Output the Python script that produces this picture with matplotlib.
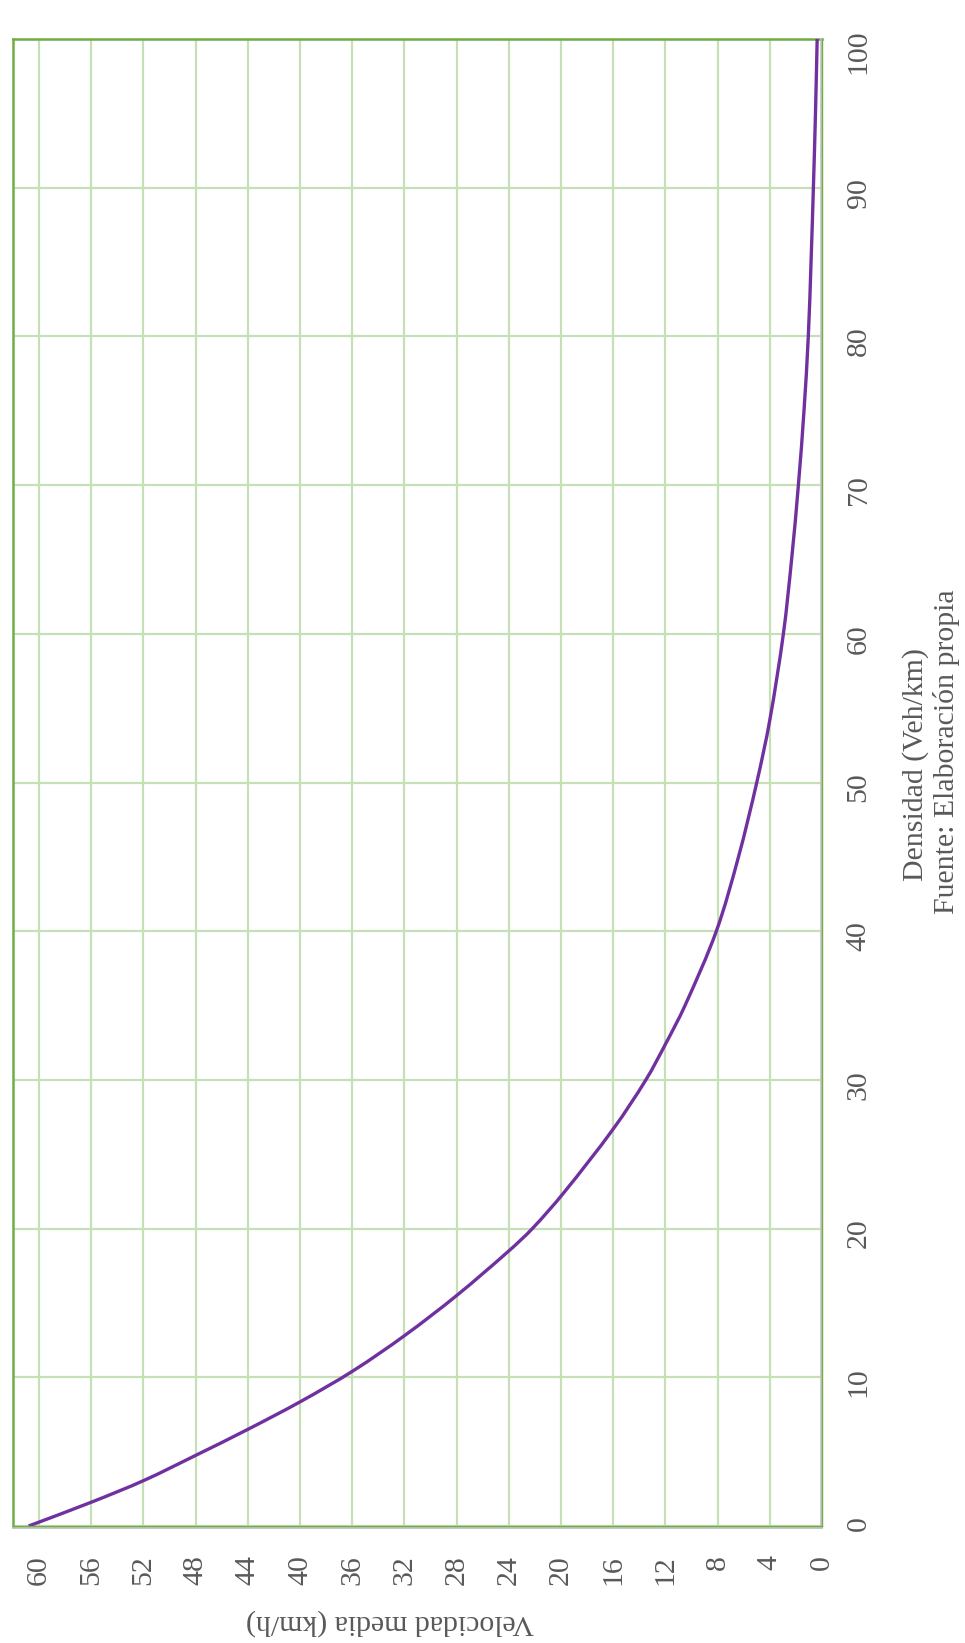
import matplotlib
matplotlib.use("Agg")
import matplotlib.pyplot as plt
import matplotlib.transforms as mtransforms
from matplotlib.path import Path
from matplotlib.patches import PathPatch

# Speed-density relationship (exponential-type decay)
density = [0, 1.6, 3.05, 4.75, 6.5, 8.35, 10.4, 12.8, 15.5, 18.5, 20, 22.4,
           26.7, 30, 32.4, 35, 40, 45, 50, 54.2, 60, 65, 70, 75, 80, 85,
           90, 95, 100]
speed = [60.8, 56, 52, 48, 44, 40, 36, 32, 28, 24, 22.2, 19.8,
         16, 13.5, 12, 10.5, 8.1, 6.4, 5.0, 4.0, 2.96, 2.33, 1.81, 1.38, 1.05, 0.84,
         0.66, 0.5, 0.37]

speed_ticks = list(range(0, 61, 4))
density_ticks = list(range(0, 101, 10))

speed_label = "Velocidad media (km/h)"
density_label = "Densidad (Veh/km)"
source_label = "Fuente: Elaboración propia"

plt.rcParams["font.family"] = ["Liberation Serif", "DejaVu Serif"]

W, H = 965, 1643
TEXT = "#595959"
GREEN = "#70ad47"
GRID = "#c5e0b4"
PURPLE = "#7030a0"
FS = 21.5


def smooth_path(xs, ts):
    """Smoothed line through (x, t) points as cubic Bezier segments,
    with t (monotonic) used as the curve parameter."""
    n = len(ts)
    slopes = []
    for i in range(n):
        a = max(i - 1, 0)
        b = min(i + 1, n - 1)
        slopes.append((xs[b] - xs[a]) / (ts[b] - ts[a]))
    verts = [(xs[0], ts[0])]
    codes = [Path.MOVETO]
    for i in range(n - 1):
        h = (ts[i + 1] - ts[i]) / 3.0
        verts += [(xs[i] + slopes[i] * h, ts[i] + h),
                  (xs[i + 1] - slopes[i + 1] * h, ts[i + 1] - h),
                  (xs[i + 1], ts[i + 1])]
        codes += [Path.CURVE4] * 3
    return Path(verts, codes)


fig = plt.figure(figsize=(W / 100, H / 100), dpi=100)
ax = fig.add_axes([13 / W, 1 - 1526 / H, 809 / W, 1487 / H])

# Page is laid out sideways: speed runs along the horizontal axis (reversed),
# density along the vertical axis with its labels on the right.
curve = PathPatch(smooth_path(speed, density), facecolor="none", edgecolor=PURPLE,
                  lw=2.4, zorder=3, clip_on=False, capstyle="butt")
ax.add_patch(curve)
ax.set_xlim(62, 0)
ax.set_ylim(0, 100)
ax.set_xticks(speed_ticks)
ax.set_yticks(density_ticks)
ax.grid(True, color=GRID, lw=1.6)
ax.set_axisbelow(True)
ax.yaxis.tick_right()
ax.tick_params(axis="both", length=0, labelsize=FS, labelcolor=TEXT)
ax.tick_params(axis="y", pad=17, labelrotation=90)
ax.tick_params(axis="x", pad=21, labelrotation=90)

for side in ("top", "left"):
    ax.spines[side].set_color(GREEN)
    ax.spines[side].set_linewidth(1.8)
for side in ("bottom", "right"):
    ax.spines[side].set_color(GREEN)
    ax.spines[side].set_linewidth(1.0)
    ax.spines[side].set_zorder(4)

# soft grey shadow along the lower and right frame edges
shadow_r = mtransforms.offset_copy(ax.get_xaxis_transform(), fig=fig, x=-1.5, y=0, units="dots")
ax.plot([0, 0], [0, 1], transform=shadow_r, color="#bfbfbf", lw=1.1, clip_on=False, zorder=3.5)
shadow_b = mtransforms.offset_copy(ax.get_yaxis_transform(), fig=fig, x=0, y=-2, units="dots")
ax.plot([0, 1], [0, 0], transform=shadow_b, color="#bfbfbf", lw=1.3, clip_on=False, zorder=3.5)

fig.text(390 / W, 1 - 1622 / H, speed_label, rotation=180, ha="center", va="center",
         fontsize=FS, color=TEXT)
fig.text(916 / W, 1 - 765 / H, density_label, rotation=90, ha="center", va="center",
         fontsize=FS, color=TEXT)
fig.text(947 / W, 1 - 752 / H, source_label, rotation=90, ha="center", va="center",
         fontsize=FS, color=TEXT)

fig.savefig("out.png", dpi=100, facecolor="white")
